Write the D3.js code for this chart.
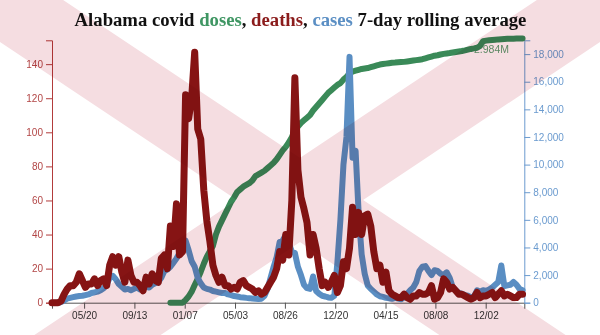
<!DOCTYPE html>
<html><head><meta charset="utf-8">
<script src="https://cdn.jsdelivr.net/npm/d3@7"></script>
<style>
body{margin:0;background:#fff}
svg{display:block}
</style></head><body>
<svg id="chart" width="600" height="335"></svg>
<script>
// ---- data (weekly samples of the 7-day rolling averages) ----
const startDate = "2020-03-07";
const dosesStartDate = "2020-12-05";
const stepDays = 7;
const deaths = [0,0,0,1,5,8,10,10,12,17,
 13,9,11,11,14,10,13,14,10,22,
 27,22,27,18,12,25,16,12,12,10,
 7,15,11,17,13,12,26,28,20,45,
 33,58,28,30,122,108,120,147,102,96,
 66,48,36,22,16,12,15,10,10,8,
 9,8,12,13,10,9,8,6,7,5,
 6,9,12,15,20,30,25,40,28,60,
 132,78,62,55,47,28,40,32,20,10,
 12,9,12,16,6,10,24,20,32,56,
 40,53,40,51,52,45,30,20,22,12,
 18,7,5,4,3,3,5,3,2,4,
 4,6,5,5,6,10,2,3,6,14,
 12,8,9,7,5,5,4,3,2,3,
 6,3,4,4,5,6,3,5,7,4,
 5,4,3,3,5,5];
const cases = [0,0,0,50,150,300,350,400,450,480,
 500,550,600,700,750,800,900,1050,1300,1800,
 1950,1700,1350,1150,950,1000,900,1000,1100,950,
 1050,1150,1100,1300,1400,1500,1800,2300,2400,2600,
 2900,3200,3600,4000,4500,3800,3000,2600,1800,1400,
 1100,1000,950,850,800,750,700,700,600,550,
 480,450,400,380,350,330,300,280,260,290,
 500,1000,1800,2600,3300,4400,4500,4900,4300,3700,
 3600,2600,2000,1300,1050,1000,1900,850,650,500,
 450,380,350,500,2900,6000,10000,12000,17800,10500,
 11000,6500,3500,2100,1250,1000,800,600,470,420,
 350,320,280,350,300,250,400,650,900,1100,
 1500,2300,2600,2650,2300,2000,2350,2300,2100,2000,
 2200,1800,1100,900,700,650,550,500,400,450,
 900,800,900,850,950,1100,1300,1500,2700,1200,
 1250,1300,1500,1300,1000,900];
const dosesM = [0,
 0,0,0,0,0.03,0.07,0.125,0.2,0.27,0.35,
 0.44,0.52,0.58,0.64,0.77,0.86,0.93,1.0,1.07,1.14,
 1.19,1.25,1.28,1.31,1.33,1.35,1.38,1.43,1.45,1.47,
 1.49,1.52,1.55,1.58,1.62,1.67,1.72,1.76,1.81,1.87,
 1.94,1.99,2.03,2.06,2.09,2.12,2.17,2.21,2.25,2.29,
 2.33,2.37,2.40,2.43,2.46,2.48,2.52,2.55,2.59,2.61,
 2.62,2.63,2.64,2.645,2.65,2.66,2.67,2.68,2.69,2.695,
 2.70,2.705,2.71,2.712,2.715,2.718,2.72,2.725,2.73,2.735,
 2.74,2.745,2.75,2.76,2.77,2.78,2.79,2.795,2.803,2.81,
 2.815,2.82,2.826,2.832,2.838,2.843,2.85,2.858,2.866,2.872,
 2.879,2.90,2.953,2.96,2.965,2.968,2.971,2.974,2.976,2.978,
 2.98,2.981,2.982,2.983,2.984,2.984];
const xDomainDates = ["2020-03-07","2023-03-01"];
const xTickDates = ["2020-05-20","2020-09-13","2021-01-07","2021-05-03","2021-08-26","2021-12-20","2022-04-15","2022-08-08","2022-12-02"];
const xTickLabels = ["05/20","09/13","01/07","05/03","08/26","12/20","04/15","08/08","12/02"];
const deathTicks = [0,20,40,60,80,100,120,140];
const caseTicks = [0,2000,4000,6000,8000,10000,12000,14000,16000,18000];
const deathMax = 154, caseMax = 19000;
const titleParts = [
  {t:"Alabama covid ", c:"#111"},
  {t:"doses", c:"#3f9663"},
  {t:", ", c:"#111"},
  {t:"deaths", c:"#8b1c1c"},
  {t:", ", c:"#111"},
  {t:"cases", c:"#5b8fc4"},
  {t:" 7-day rolling average", c:"#111"}
];

// ---- chart ----
const W = 600, H = 335;
const m = {l:52, r:75.7, t:40.3, b:32.3};
const svg = d3.select("#chart");
const parse = d3.utcParse("%Y-%m-%d");
const s0 = parse(startDate), d0 = parse(dosesStartDate);
const deathData = deaths.map((v,i)=>({d:d3.utcDay.offset(s0, i*stepDays), v}));
const caseData = cases.map((v,i)=>({d:d3.utcDay.offset(s0, i*stepDays), v}));
const doseData = dosesM.map((v,i)=>({d:d3.utcDay.offset(d0, i*stepDays), v}));

const x = d3.scaleUtc().domain(xDomainDates.map(parse)).range([m.l, W-m.r]);
const yD = d3.scaleLinear().domain([0,deathMax]).range([H-m.b, m.t]);
const yC = d3.scaleLinear().domain([0,caseMax]).range([H-m.b, m.t]);
const yV = d3.scaleLinear().domain([0,d3.max(dosesM)]).range([H-m.b, 38.5]);

// title
const title = svg.append("text").attr("x", 300.5).attr("y", 26)
  .attr("text-anchor","middle")
  .style("font-family","'Liberation Serif','Times New Roman',serif")
  .style("font-weight","bold").style("font-size","18.7px");
title.selectAll("tspan").data(titleParts).join("tspan")
  .attr("fill", d=>d.c).text(d=>d.t);

const fontFam = "'Liberation Sans',Arial,sans-serif";
// axes
const gx = svg.append("g").attr("transform",`translate(0,${H-m.b})`)
  .call(d3.axisBottom(x).tickValues(xTickDates.map(parse)).tickFormat((d,i)=>xTickLabels[i]));
gx.selectAll("path,line").attr("stroke","#555");
gx.selectAll("text").attr("fill","#333").style("font-family",fontFam).style("font-size","10px");

const gl = svg.append("g").attr("transform",`translate(${m.l},0)`)
  .call(d3.axisLeft(yD).tickValues(deathTicks));
gl.selectAll("path,line").attr("stroke","#b23b3b");
gl.selectAll("text").attr("fill","#b24545").style("font-family",fontFam).style("font-size","10px");

const gr = svg.append("g").attr("transform",`translate(${W-m.r},0)`)
  .call(d3.axisRight(yC).tickValues(caseTicks).tickFormat(d3.format(",")));
gr.selectAll("path,line").attr("stroke","#6b9bcf");
gr.selectAll("text").attr("fill","#6b9bcf").style("font-family",fontFam).style("font-size","10px");

// last dose label
const lastDose = doseData[doseData.length-1];
svg.append("text").attr("x", 509).attr("y", 53.3).attr("text-anchor","end")
  .attr("fill","#5f9d70").style("font-family",fontFam).style("font-size","10.5px")
  .text(d3.format(".3f")(lastDose.v) + "M");

// lines
const mk = (ys)=> d3.line().x(d=>x(d.d)).y(d=>ys(d.v));
svg.append("path").datum(doseData).attr("d", mk(yV))
  .attr("fill","none").attr("stroke","#3a8a58").attr("stroke-width",6)
  .attr("stroke-linejoin","round").attr("stroke-linecap","round");
svg.append("path").datum(caseData).attr("d", mk(yC))
  .attr("fill","none").attr("stroke","#5a8ec3").attr("stroke-width",6)
  .attr("stroke-linejoin","round").attr("stroke-linecap","round");
svg.append("path").datum(deathData).attr("d", mk(yD))
  .attr("fill","none").attr("stroke","#861414").attr("stroke-width",7)
  .attr("stroke-linejoin","round").attr("stroke-linecap","round");

// pink X overlay
const gX = svg.append("g").style("mix-blend-mode","multiply");
[[0,0,600,400],[0,400,600,0]].forEach(c=>{
  gX.append("line").attr("x1",c[0]).attr("y1",c[1]).attr("x2",c[2]).attr("y2",c[3])
    .attr("stroke","#f5dde1").attr("stroke-width",70);
});
</script>
</body></html>
